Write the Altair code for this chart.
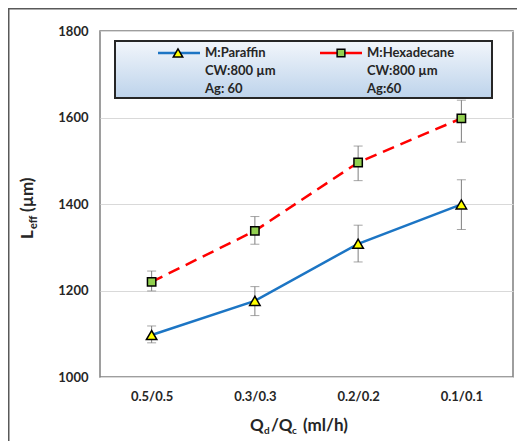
import altair as alt
import pandas as pd

categories = ["0.5/0.5", "0.3/0.3", "0.2/0.2", "0.1/0.1"]
paraffin = [1097, 1176, 1308, 1399]
paraffin_lo = [1079, 1142, 1266, 1341]
paraffin_hi = [1118, 1209, 1351, 1456]
hexadecane = [1220, 1338, 1496, 1598]
hexadecane_lo = [1199, 1307, 1454, 1543]
hexadecane_hi = [1245, 1371, 1534, 1640]
y_ticks = [1000, 1200, 1400, 1600, 1800]

rows = []
for i, c in enumerate(categories):
    rows.append({"cat": c, "series": "Paraffin", "v": paraffin[i], "lo": paraffin_lo[i], "hi": paraffin_hi[i]})
for i, c in enumerate(categories):
    rows.append({"cat": c, "series": "Hexadecane", "v": hexadecane[i], "lo": hexadecane_lo[i], "hi": hexadecane_hi[i]})
df = pd.DataFrame(rows)

FONT = "Lato"
TXT = "#262626"

yscale = alt.Scale(domain=[1000, 1800], nice=False, zero=False)
yaxis = alt.Axis(values=y_ticks, format="d", labelFont=FONT, labelFontSize=13, labelFontWeight="bold",
                 labelColor=TXT, ticks=False, domain=False, labelPadding=12,
                 grid=True, gridColor="#D9D9D9", gridWidth=1)

x_enc = alt.X("cat:N", sort=categories, title=None,
              scale=alt.Scale(type="point", padding=0.5),
              axis=alt.Axis(labelAngle=0, labelFont=FONT, labelFontSize=13, labelFontWeight="bold",
                            labelColor=TXT, ticks=False, domain=False, labelPadding=13, grid=False))
y_enc = alt.Y("v:Q", title=None, scale=yscale, axis=yaxis)
y_lo = alt.Y("lo:Q", title=None, scale=yscale, axis=yaxis)
y_hi = alt.Y("hi:Q", title=None, scale=yscale, axis=yaxis)

base = alt.Chart(df)

err = base.mark_rule(color="#7F7F7F", strokeWidth=1).encode(x=x_enc, y=y_lo, y2="hi:Q")
cap_lo = base.mark_tick(color="#7F7F7F", size=9, thickness=1).encode(x=x_enc, y=y_lo)
cap_hi = base.mark_tick(color="#7F7F7F", size=9, thickness=1).encode(x=x_enc, y=y_hi)

line_p = base.transform_filter(alt.datum.series == "Paraffin").mark_line(
    color="#1C75C4", strokeWidth=2.5).encode(x=x_enc, y=y_enc)
line_h = base.transform_filter(alt.datum.series == "Hexadecane").mark_line(
    color="#FF0000", strokeWidth=2.5, strokeDash=[12, 7]).encode(x=x_enc, y=y_enc)

pt_p = base.transform_filter(alt.datum.series == "Paraffin").mark_point(
    shape="triangle-up", size=110, filled=True, fill="#FFFF00", stroke="#000000", strokeWidth=1.5, opacity=1
).encode(x=x_enc, y=y_enc)
pt_h = base.transform_filter(alt.datum.series == "Hexadecane").mark_point(
    shape="square", size=70, filled=True, fill="#92D050", stroke="#000000", strokeWidth=1.5, opacity=1
).encode(x=x_enc, y=y_enc)

one = pd.DataFrame({"k": [0]})
deco = alt.Chart(one)

# legend box
grad = alt.LinearGradient(gradient="linear", x1=0, x2=0, y1=0, y2=1,
                          stops=[alt.GradientStop(color="#F2F6FB", offset=0),
                                 alt.GradientStop(color="#BDD3EB", offset=1)])
box = deco.mark_rect(fill=grad, stroke="#262626", strokeWidth=2).encode(
    x=alt.value(15), x2=alt.value(392), y=alt.value(10), y2=alt.value(67))
leg_line_p = deco.mark_rule(color="#1C75C4", strokeWidth=2.5).encode(
    x=alt.value(58), x2=alt.value(100), y=alt.value(22))
leg_pt_p = deco.mark_point(shape="triangle-up", size=90, filled=True, fill="#FFFF00",
                           stroke="#000000", strokeWidth=1.5, opacity=1).encode(
    x=alt.value(78), y=alt.value(22))
leg_line_h = deco.mark_rule(color="#FF0000", strokeWidth=2.5).encode(
    x=alt.value(220), x2=alt.value(262), y=alt.value(22))
leg_pt_h = deco.mark_point(shape="square", size=60, filled=True, fill="#92D050",
                           stroke="#000000", strokeWidth=1.5, opacity=1).encode(
    x=alt.value(241), y=alt.value(22))

legend_texts = [
    ("M:Paraffin", 105, 22), ("CW:800 µm", 105, 40), ("Ag: 60", 105, 57.5),
    ("M:Hexadecane", 267, 22), ("CW:800 µm", 267, 40), ("Ag:60", 267, 57.5),
]
leg_txt = [deco.mark_text(text=t, font=FONT, fontSize=13, fontWeight="bold", color=TXT,
                          align="left", baseline="middle").encode(x=alt.value(xx), y=alt.value(yy))
           for t, xx, yy in legend_texts]

# axis titles with subscripts
def t(text, x, y, size, angle=0):
    kw = dict(text=text, font=FONT, fontSize=size, fontWeight="bold", color=TXT,
              align="left", baseline="alphabetic")
    if angle:
        kw["angle"] = angle
    return deco.mark_text(**kw).encode(x=alt.value(x), y=alt.value(y))

ytitle = [t("L", -67, 208, 17, 270), t("eff", -63, 198, 11, 270), t("(µm)", -67, 181, 17, 270)]
xtitle = [t("Q", 150, 400, 17), t("d", 164, 403, 10), t("/Q", 171, 400, 17),
          t("c", 192, 403, 10), t("(ml/h)", 203, 400, 17)]

# outer frame (top and left edges)
frame_l = deco.mark_rule(color="#595959", strokeWidth=3).encode(
    x=alt.value(-92), y=alt.value(-23), y2=alt.value(420))
frame_t = deco.mark_rule(color="#595959", strokeWidth=3).encode(
    x=alt.value(-92), x2=alt.value(430), y=alt.value(-23))

chart = alt.layer(
    err, cap_lo, cap_hi, line_p, line_h, pt_p, pt_h,
    box, leg_line_p, leg_pt_p, leg_line_h, leg_pt_h, *leg_txt,
    *ytitle, *xtitle, frame_l, frame_t
).properties(
    width=413, height=346,
    autosize=alt.AutoSizeParams(type="none"),
    padding={"left": 92, "top": 23, "right": 4, "bottom": 64},
    background="white",
).configure_view(stroke="#7F7F7F", strokeWidth=1.5)

chart.save("out.html", embed_options={"renderer": "svg", "actions": False})
